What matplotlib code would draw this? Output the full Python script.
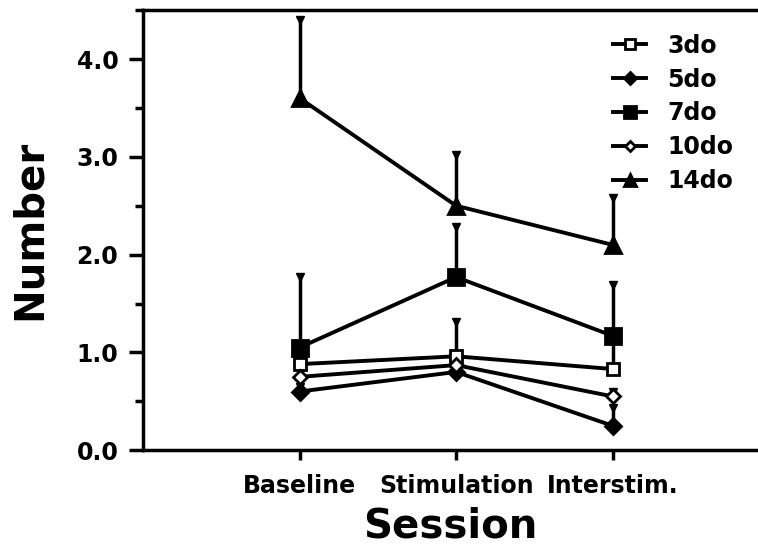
import matplotlib.pyplot as plt
import numpy as np
from matplotlib.ticker import MultipleLocator, FuncFormatter

sessions = ["Baseline", "Stimulation", "Interstim."]
groups = ["3do", "5do", "7do", "10do", "14do"]

# mean values per group
means_3do = [0.88, 0.96, 0.83]
means_5do = [0.60, 0.80, 0.25]
means_7do = [1.05, 1.77, 1.17]
means_10do = [0.75, 0.87, 0.55]
means_14do = [3.60, 2.50, 2.10]

# upper error only
err_3do = [0.10, 0.35, 0.35]
err_5do = [0.05, 0.10, 0.18]
err_7do = [0.72, 0.51, 0.52]
err_10do = [0.05, 0.05, 0.05]
err_14do = [0.80, 0.52, 0.48]

means = [means_3do, means_5do, means_7do, means_10do, means_14do]
errs = [err_3do, err_5do, err_7do, err_10do, err_14do]
markers = ["s", "D", "s", "D", "^"]
faces = ["white", "black", "black", "white", "black"]
sizes = [9, 8, 11, 7, 11]

fig = plt.figure(figsize=(7.58, 5.49), dpi=100)
ax = fig.add_axes([0.189, 0.180, 0.811, 0.8015])

x = np.arange(1, len(sessions) + 1)

# error bars first so markers sit on top
for m, e in zip(means, errs):
    m = np.array(m)
    e = np.array(e)
    ax.vlines(x, m, m + e, color="black", lw=2.5, zorder=2)
    ax.plot(x, m + e, "v", color="black", ms=6, zorder=2)

for name, m, mk, fc, s in zip(groups, means, markers, faces, sizes):
    ax.plot(x, m, color="black", lw=2.8, marker=mk, mfc=fc, mec="black",
            mew=2, ms=s, label=name, zorder=3)

ax.set_xlim(0, 3.93)
ax.set_ylim(0, 4.5)
ax.set_xticks(x)
ax.set_xticklabels(sessions, fontsize=17, fontweight="bold")
ax.yaxis.set_major_locator(MultipleLocator(1.0))
ax.yaxis.set_minor_locator(MultipleLocator(0.5))
ax.yaxis.set_major_formatter(FuncFormatter(lambda v, p: "%.1f" % v))
for lab in ax.get_yticklabels():
    lab.set_fontsize(17)
    lab.set_fontweight("bold")

ax.tick_params(axis="y", which="major", length=10, width=2.5, direction="out", pad=8)
ax.tick_params(axis="y", which="minor", length=6, width=2.5, direction="out")
ax.tick_params(axis="x", length=7, width=2.5, direction="out", pad=10)

for side in ["left", "bottom", "top"]:
    ax.spines[side].set_linewidth(2.5)
ax.spines["right"].set_visible(False)

ax.set_xlabel("Session", fontsize=29, fontweight="bold", labelpad=6)
ax.set_ylabel("Number", fontsize=29, fontweight="bold", labelpad=19)

leg = ax.legend(loc="upper right", bbox_to_anchor=(0.995, 0.995), frameon=False,
                handlelength=1.4, handletextpad=0.9, labelspacing=0.42,
                markerscale=0.75, prop={"size": 17, "weight": "bold"})

plt.savefig("out.png", dpi=100)
